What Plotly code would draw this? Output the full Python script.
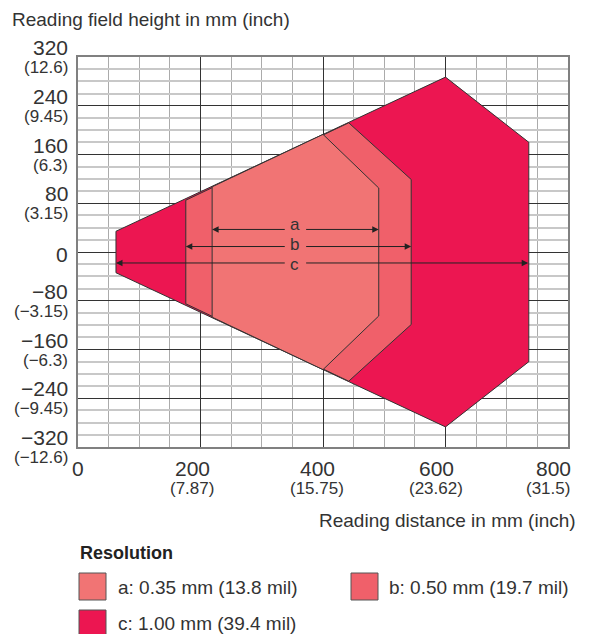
import plotly.graph_objects as go

# ---------------- data ----------------
# reading-field polygons (mm): distance x, field height y
c_x = [62, 600, 736, 736, 600, 62]
c_y = [34, 287, 180, -180, -287, -34]
b_x = [176, 442, 544, 544, 442, 176]
b_y = [85, 212, 119, -119, -212, -85]
a_x = [219, 400, 491, 491, 400, 219]
a_y = [107, 193, 105, -105, -193, -107]

zone_names = ["c", "b", "a"]
zone_legend = ["c: 1.00 mm (39.4 mil)", "b: 0.50 mm (19.7 mil)", "a: 0.35 mm (13.8 mil)"]
zone_colors = ["#EC1651", "#F0606A", "#F17474"]

# dimension arrows
arrow_names = ["a", "b", "c"]
arrow_y = [37, 9, -18]
arrow_left = [219, 176, 62]
arrow_right = [491, 544, 735]
arrow_label_x = 354
arrow_gap = [340, 370]

x_ticks = [0, 200, 400, 600, 800]
x_tick_inch = ["", "(7.87)", "(15.75)", "(23.62)", "(31.5)"]
y_ticks = [320, 240, 160, 80, 0, -80, -160, -240, -320]
y_tick_inch = ["(12.6)", "(9.45)", "(6.3)", "(3.15)", "", "(\u22123.15)", "(\u22126.3)", "(\u22129.45)", "(\u221212.6)"]

x_title = "Reading distance in mm (inch)"
y_title = "Reading field height in mm (inch)"
legend_title = "Resolution"

# ---------------- layout helpers ----------------
# page body has an 8px margin; positions below are in window pixels
OFF = 8
WIN_W, WIN_H = 592, 634
W, H = WIN_W - OFF, WIN_H - OFF
L, R, T, B = 78, 568, 57, 447          # plot area in window pixels
FONT = "Liberation Sans, Arial, sans-serif"
TXT = "#333333"


def P(px):
    return (px - L) / (R - L)


def Q(py):
    return (B - py) / (B - T)


fig = go.Figure()

polys = {"c": (c_x, c_y), "b": (b_x, b_y), "a": (a_x, a_y)}
for name, col in zip(zone_names, zone_colors):
    xs, ys = polys[name]
    fig.add_trace(go.Scatter(
        x=xs + [xs[0]], y=ys + [ys[0]], mode="lines", fill="toself",
        fillcolor=col, line=dict(color="#333333", width=1),
        showlegend=False, hoverinfo="skip"))

ann = []
# arrows
label_shift = [4, 1, -2.5]
for nm, yv, xl, xr, ls in zip(arrow_names, arrow_y, arrow_left, arrow_right, label_shift):
    for tip, tail in ((xl, arrow_gap[0]), (xr, arrow_gap[1])):
        ann.append(dict(x=tip, y=yv, ax=tail, ay=yv, xref="x", yref="y",
                        axref="x", ayref="y", text="", showarrow=True,
                        arrowhead=2, arrowsize=1.3, arrowwidth=1,
                        arrowcolor="#222222", standoff=0, startstandoff=0))
    ann.append(dict(x=arrow_label_x, y=yv, xref="x", yref="y", text=nm,
                    showarrow=False, font=dict(family=FONT, size=17, color=TXT),
                    borderpad=0, yshift=1 + ls))

# y tick labels
for v, inch in zip(y_ticks, y_tick_inch):
    lab = str(v).replace("-", "\u2212")
    if inch:
        ann.append(dict(x=0, y=v, xref="paper", yref="y", text=lab, showarrow=False,
                        xanchor="right", yanchor="middle", xshift=-8, yshift=9.5,
                        font=dict(family=FONT, size=21, color=TXT)))
        ann.append(dict(x=0, y=v, xref="paper", yref="y", text=inch, showarrow=False,
                        xanchor="right", yanchor="middle", xshift=-8, yshift=-10.5,
                        font=dict(family=FONT, size=17, color=TXT)))
    else:
        ann.append(dict(x=0, y=v, xref="paper", yref="y", text=lab, showarrow=False,
                        xanchor="right", yanchor="middle", xshift=-8, yshift=-2,
                        font=dict(family=FONT, size=21, color=TXT)))

# x tick labels
x_shift_num = [0, -8, -6, -9, -15]
x_shift_inch = [0, -9, -6, -10, -20]
for v, inch, s1, s2 in zip(x_ticks, x_tick_inch, x_shift_num, x_shift_inch):
    ann.append(dict(x=v, y=Q(468), xref="x", yref="paper", text=str(v), showarrow=False,
                    xanchor="center", yanchor="middle", xshift=s1,
                    font=dict(family=FONT, size=21, color=TXT)))
    if inch:
        ann.append(dict(x=v, y=Q(488), xref="x", yref="paper", text=inch, showarrow=False,
                        xanchor="center", yanchor="middle", xshift=s2,
                        font=dict(family=FONT, size=17, color=TXT)))

# titles
ann.append(dict(x=P(10), y=Q(20), xref="paper", yref="paper", text=y_title, showarrow=False,
                xanchor="left", yanchor="middle", font=dict(family=FONT, size=19, color=TXT)))
ann.append(dict(x=P(578), y=Q(520), xref="paper", yref="paper", text=x_title, showarrow=False,
                xanchor="right", yanchor="middle", font=dict(family=FONT, size=19, color=TXT)))
ann.append(dict(x=P(78), y=Q(553), xref="paper", yref="paper", text="<b>" + legend_title + "</b>",
                showarrow=False, xanchor="left", yanchor="middle",
                font=dict(family=FONT, size=18, color="#222222")))

# legend swatches + text
shapes = []
leg_pos = {"a": (79, 573, 116, 587), "b": (351, 573, 387, 587), "c": (79, 610, 116, 623)}
for name, lab, col in zip(zone_names, zone_legend, zone_colors):
    sx, sy, tx, ty = leg_pos[name]
    shapes.append(dict(type="rect", xref="paper", yref="paper",
                       x0=P(sx), x1=P(sx + 27), y0=Q(sy), y1=Q(sy + 27),
                       fillcolor=col, line=dict(color="#555555", width=1)))
    ann.append(dict(x=P(tx), y=Q(ty), xref="paper", yref="paper", text=lab, showarrow=False,
                    xanchor="left", yanchor="middle", font=dict(family=FONT, size=19, color=TXT)))

fig.update_layout(
    width=W, height=H,
    margin=dict(l=L - OFF, r=WIN_W - R, t=T - OFF, b=H - (B - OFF)),
    paper_bgcolor="white", plot_bgcolor="white",
    annotations=ann, shapes=shapes, showlegend=False,
    xaxis=dict(range=[0, 800], tick0=0, dtick=200, showticklabels=False, ticks="",
               showgrid=True, gridcolor="#333333", gridwidth=1, zeroline=False,
               showline=True, mirror=True, linecolor="#808080", linewidth=2,
               minor=dict(dtick=50, showgrid=True, gridcolor="#ababab", gridwidth=1),
               fixedrange=True),
    yaxis=dict(range=[-320, 320], tick0=0, dtick=80, showticklabels=False, ticks="",
               showgrid=True, gridcolor="#333333", gridwidth=1, zeroline=False,
               showline=True, mirror=True, linecolor="#808080", linewidth=2,
               minor=dict(dtick=20, showgrid=True, gridcolor="#c8c8c8", gridwidth=1.5),
               fixedrange=True),
)

fig.write_html("out.html")
